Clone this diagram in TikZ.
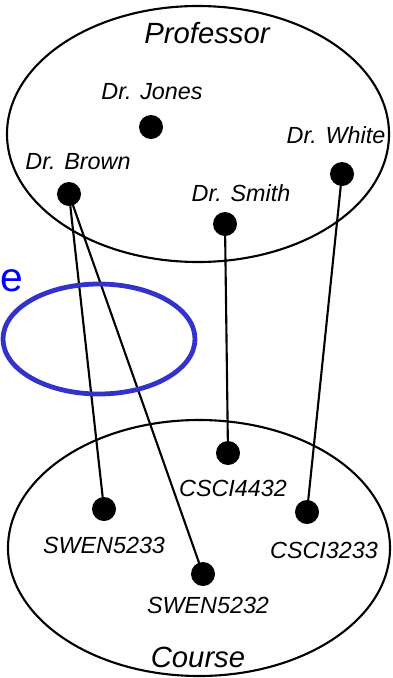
\documentclass[tikz,border=0pt]{standalone}
\usepackage{fontspec}
\setmainfont{Liberation Sans}
\usetikzlibrary{positioning}
\definecolor{setblue}{RGB}{51,51,204}
\tikzset{
  lbl/.style   = {font=\fontsize{16.6}{19}\selectfont\itshape, inner sep=0pt},
  settitle/.style = {font=\fontsize{20.8}{24}\selectfont\itshape, inner sep=0pt},
  elem/.style  = {circle, fill=black, minimum size=0.6cm, inner sep=0pt},
  link/.style  = {black, line width=1.5pt},
}

\begin{document}
\begin{tikzpicture}[x=0.025cm, y=-0.025cm]
\useasboundingbox (0,0) rectangle (393,678);
% the two sets
\draw[line width=1.5pt] (198,134) ellipse [x radius=191, y radius=128];
\draw[line width=1.5pt] (199,548) ellipse [x radius=191, y radius=128];
\node[settitle] (prof)   at (207,33)  {Professor};
\node[settitle] (course) at (198,657) {Course};

% professors
\node[elem] (jones) at (151,127) {};
\node[elem] (white) at (342,174) {};
\node[elem] (brown) at (69,194)  {};
\node[elem] (smith) at (225,224) {};
\node[lbl] at (152,92)  {Dr. Jones};
\node[lbl] at (336,135) {Dr. White};
\node[lbl] at (78,162)  {Dr. Brown};
\node[lbl] at (241,193) {Dr. Smith};

% courses
\node[elem] (c4432) at (228,453) {};
\node[elem] (s5233) at (104,509) {};
\node[elem] (c3233) at (307,512) {};
\node[elem] (s5232) at (203,574) {};
\node[lbl] at (233,488) {CSCI4432};
\node[lbl] at (104,545) {SWEN5233};
\node[lbl] at (324,550) {CSCI3233};
\node[lbl] at (208,605) {SWEN5232};

% teaches
\draw[link] (brown.center) -- (s5233.center);
\draw[link] (brown.center) -- (s5232.center);
\draw[link] (smith.center) -- (c4432.center);
\draw[link] (white.center) -- (c3233.center);

% highlighted part
\draw[setblue, line width=3.4pt] (99,339) ellipse [x radius=96, y radius=55];
\node[font=\fontsize{29}{33}\selectfont, text=blue, inner sep=0pt, anchor=base west] (tag) at (0,291) {e};
\end{tikzpicture}
\end{document}
